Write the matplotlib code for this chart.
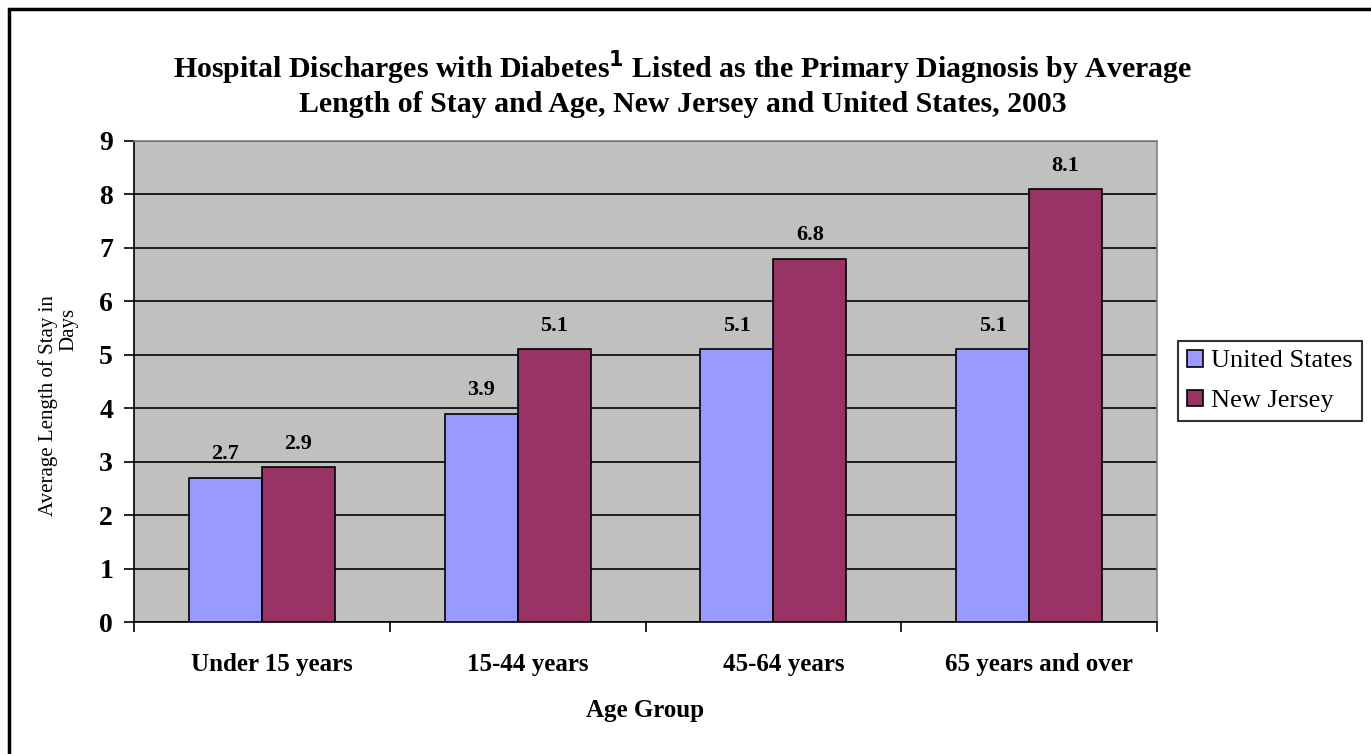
import matplotlib.pyplot as plt
from matplotlib.patches import Rectangle
import numpy as np

plt.rcParams['font.family'] = ['Liberation Serif', 'DejaVu Serif']

# data
age_groups = ['Under 15 years', '15-44 years', '45-64 years', '65 years and over']
us_stay = [2.7, 3.9, 5.1, 5.1]
nj_stay = [2.9, 5.1, 6.8, 8.1]
y_ticks = [0, 1, 2, 3, 4, 5, 6, 7, 8, 9]

us_color = '#9999FF'
nj_color = '#993366'

fig = plt.figure(figsize=(13.71, 7.54), dpi=100)
ax = fig.add_axes([134 / 1371, 1 - 622 / 754, (1157 - 134) / 1371, (622 - 141) / 754])
ax.set_facecolor('#C0C0C0')

x = np.arange(len(age_groups))
w = 1 / 3.5
b1 = ax.bar(x - w / 2, us_stay, w, color=us_color, edgecolor='black', linewidth=1.2,
            label='United States', zorder=3)
b2 = ax.bar(x + w / 2, nj_stay, w, color=nj_color, edgecolor='black', linewidth=1.2,
            label='New Jersey', zorder=3)

for bars in (b1, b2):
    for r in bars:
        h = r.get_height()
        ax.text(r.get_x() + r.get_width() / 2, h + 0.25, f'{h:.1f}', ha='center', va='bottom',
                fontsize=16, fontweight='bold', zorder=4)

ax.set_xlim(-0.5, len(age_groups) - 0.5)
ax.set_ylim(0, 9)
ax.set_yticks(y_ticks)
ax.yaxis.grid(True, color='black', linewidth=1.2, zorder=1)
ax.set_axisbelow(True)

ax.set_xticks(np.arange(len(age_groups) + 1) - 0.5)
ax.set_xticklabels([])
ax.set_xticks(x + 0.04, minor=True)
ax.set_xticklabels(age_groups, minor=True, fontsize=18, fontweight='bold')
ax.tick_params(axis='x', which='minor', length=0, pad=22)
ax.tick_params(axis='x', which='major', length=7, width=1.2, direction='out')
ax.tick_params(axis='y', length=7, width=1.2, direction='out', labelsize=20, pad=8)
for t in ax.get_yticklabels():
    t.set_fontweight('bold')

for s in ('left', 'bottom'):
    ax.spines[s].set_color('black')
    ax.spines[s].set_linewidth(1.2)
for s in ('top', 'right'):
    ax.spines[s].set_color('#808080')
    ax.spines[s].set_linewidth(1.2)

fig.text(683 / 1371, 1 - 83 / 754,
         'Hospital Discharges with Diabetes$^{\\mathbf{1}}$ Listed as the Primary Diagnosis by Average\n'
         'Length of Stay and Age, New Jersey and United States, 2003',
         ha='center', va='center', fontsize=21.5, fontweight='bold', linespacing=1.2)

fig.text(645 / 1371, 1 - 710 / 754, 'Age Group', ha='center', va='center',
         fontsize=18, fontweight='bold')
# y label: two lines, the second one sits off-centre as in the original
fig.text(48 / 1371, 1 - 406 / 754, 'Average Length of Stay in', ha='center', va='center',
         rotation=90, fontsize=15)
fig.text(69 / 1371, 1 - 329 / 754, 'Days', ha='center', va='center',
         rotation=90, fontsize=15)

leg = fig.legend(handles=[b1, b2], loc='center left',
                 bbox_to_anchor=(1178 / 1371, 1 - 381 / 754), frameon=True, fancybox=False,
                 edgecolor='black', fontsize=19, handlelength=0.6, handleheight=0.6,
                 handletextpad=0.3, borderpad=0.35, labelspacing=0.65, borderaxespad=0)
leg.get_frame().set_linewidth(1.5)

# outer border of the chart area
fig.patches.append(Rectangle((9 / 1371, -0.1), 1.2, 1 - 9 / 754 + 0.1, transform=fig.transFigure,
                             fill=False, edgecolor='black', linewidth=2.5))

fig.savefig('out.png', dpi=100)
